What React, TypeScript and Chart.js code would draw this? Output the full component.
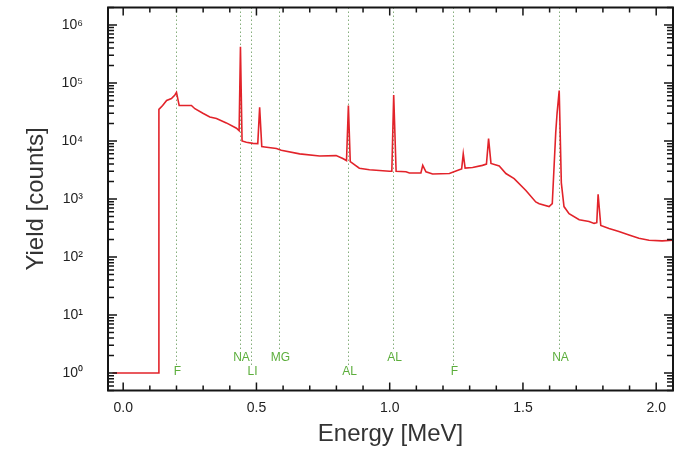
import React, { useEffect, useRef } from "react";
import { Chart, registerables } from "chart.js";

Chart.register(...registerables);

// Spectrum (energy in MeV, yield in counts)
const ENERGY = [
  -0.04, 0.133, 0.134, 0.148, 0.163, 0.181, 0.194, 0.2, 0.21, 0.237, 0.256, 0.269,
  0.299, 0.325, 0.35, 0.387, 0.425, 0.435, 0.44, 0.446, 0.462, 0.487, 0.505, 0.512,
  0.52, 0.531, 0.575, 0.593, 0.662, 0.737, 0.799, 0.824, 0.838, 0.845, 0.852, 0.886,
  0.924, 0.999, 1.008, 1.015, 1.024, 1.061, 1.074, 1.117, 1.124, 1.136, 1.161, 1.224,
  1.261, 1.27, 1.276, 1.283, 1.311, 1.348, 1.363, 1.371, 1.38, 1.411, 1.436, 1.467,
  1.511, 1.548, 1.561, 1.598, 1.61, 1.623, 1.628, 1.636, 1.644, 1.654, 1.673, 1.711,
  1.748, 1.767, 1.777, 1.782, 1.792, 1.823, 1.86, 1.898, 1.935, 1.973, 2.022, 2.062,
];
const COUNTS = [
  1, 1, 3.5e4, 4.1e4, 5.0e4, 5.4e4, 6.2e4, 6.9e4, 4.1e4, 4.1e4, 4.1e4, 3.6e4,
  3.0e4, 2.6e4, 2.45e4, 2.05e4, 1.66e4, 1.5e4, 4.2e5, 1.0e4, 9.5e3, 9.1e3, 9.0e3, 3.8e4,
  8.0e3, 7.9e3, 7.4e3, 6.9e3, 6.0e3, 5.5e3, 5.6e3, 5.0e3, 4.6e3, 4.1e4, 4.4e3, 3.4e3,
  3.2e3, 3.0e3, 3.0e3, 6.2e4, 3.0e3, 2.95e3, 2.8e3, 2.8e3, 3.8e3, 2.95e3, 2.7e3, 2.75e3,
  3.2e3, 3.3e3, 6.0e3, 3.4e3, 3.5e3, 3.8e3, 4.0e3, 1.1e4, 4.1e3, 3.7e3, 2.75e3, 2.24e3,
  1.4e3, 890, 830, 740, 830, 1.4e4, 3.0e4, 7.4e4, 1.9e3, 740, 560, 440,
  410, 380, 390, 1.2e3, 350, 310, 275, 240, 210, 195, 190, 195,
];

// Marked gamma lines
const LINE_ENERGY = [0.197, 0.44, 0.478, 0.585, 0.844, 1.014, 1.236, 1.634];
const LINE_NAME = ["F", "NA", "LI", "MG", "AL", "AL", "F", "NA"];
const LINE_ROW = ["lower", "upper", "lower", "upper", "lower", "upper", "lower", "upper"];

// Axis ticks
const X_TICKS = [0, 0.5, 1.0, 1.5, 2.0];
const Y_TICKS = [1, 10, 100, 1e3, 1e4, 1e5, 1e6];
const SUPERSCRIPTS = ["⁰", "¹", "²", "³", "⁴", "⁵", "⁶"];

const X_MIN = -0.057;
const X_MAX = 2.063;
const Y_MIN = 0.5;
const Y_MAX = 2e6;

const FONT = "'Liberation Sans', Arial, Helvetica, sans-serif";

const decorPlugin = {
  id: "decor",
  beforeDatasetsDraw(chart: any) {
    const { ctx, chartArea: a, scales } = chart;
    const x = scales.x;
    ctx.save();
    ctx.font = "12px 'Liberation Sans Narrow', 'Liberation Sans', sans-serif";
    ctx.textAlign = "center";
    ctx.textBaseline = "middle";
    LINE_ENERGY.forEach((e, i) => {
      const px = Math.round(x.getPixelForValue(e)) + 0.5;
      const rowY = LINE_ROW[i] === "upper" ? a.bottom - 32.5 : a.bottom - 18.5;
      ctx.strokeStyle = "rgba(120,165,110,0.9)";
      ctx.lineWidth = 1;
      ctx.setLineDash([1.5, 2.5]);
      ctx.beginPath();
      ctx.moveTo(px, a.top);
      ctx.lineTo(px, rowY - 7);
      ctx.stroke();
      ctx.fillStyle = "#5cae3c";
      ctx.fillText(LINE_NAME[i], px + 1, rowY);
    });
    ctx.restore();
  },
  afterDraw(chart: any) {
    const { ctx, chartArea: a, scales } = chart;
    const x = scales.x;
    const y = scales.y;
    ctx.save();
    ctx.strokeStyle = "#151515";
    ctx.lineWidth = 1.5;
    ctx.beginPath();
    for (let i = 0; i <= 20; i++) {
      const v = i / 10;
      if (v < X_MIN || v > X_MAX) continue;
      const px = x.getPixelForValue(v);
      const len = i % 5 === 0 ? 8 : 5;
      ctx.moveTo(px, a.bottom);
      ctx.lineTo(px, a.bottom - len);
      ctx.moveTo(px, a.top);
      ctx.lineTo(px, a.top + len);
    }
    for (let d = -1; d <= 6; d++) {
      for (let m = 1; m <= 9; m++) {
        const v = m * Math.pow(10, d);
        if (v < Y_MIN || v > Y_MAX) continue;
        const py = y.getPixelForValue(v);
        const len = m === 1 ? 9 : 6;
        ctx.moveTo(a.left, py);
        ctx.lineTo(a.left + len, py);
        ctx.moveTo(a.right, py);
        ctx.lineTo(a.right - len, py);
      }
    }
    ctx.stroke();
    ctx.lineWidth = 2;
    ctx.strokeRect(a.left, a.top, a.right - a.left, a.bottom - a.top);
    ctx.restore();
  },
};

export default function App() {
  const canvasRef = useRef<HTMLCanvasElement | null>(null);

  useEffect(() => {
    const canvas = canvasRef.current;
    if (!canvas) return;
    const points = ENERGY.map((e, i) => ({ x: e, y: COUNTS[i] }));
    const chart = new Chart(canvas, {
      type: "line",
      data: {
        datasets: [
          {
            data: points,
            borderColor: "#e2232a",
            borderWidth: 1.6,
            pointRadius: 0,
            tension: 0,
            fill: false,
          },
        ],
      },
      options: {
        animation: false,
        responsive: false,
        maintainAspectRatio: false,
        layout: { padding: { left: 0, right: 1, top: 7.5, bottom: 0 } },
        plugins: {
          legend: { display: false },
          tooltip: { enabled: false },
        },
        scales: {
          x: {
            type: "linear",
            min: X_MIN,
            max: X_MAX,
            grid: { display: false, drawTicks: false },
            border: { display: false },
            afterBuildTicks: (scale: any) => {
              scale.ticks = X_TICKS.map((v) => ({ value: v }));
            },
            afterFit: (scale: any) => {
              scale.height = 59.5;
              scale.paddingLeft = 0;
              scale.paddingRight = 0;
            },
            ticks: {
              padding: 9,
              color: "#222",
              font: { family: FONT, size: 14 },
              maxRotation: 0,
              callback: (v: any) => Number(v).toFixed(1),
            },
            title: {
              display: true,
              text: "Energy [MeV]",
              color: "#333",
              font: { family: FONT, size: 24 },
              padding: { top: 0, bottom: 1 },
            },
          },
          y: {
            type: "logarithmic",
            min: Y_MIN,
            max: Y_MAX,
            grid: { display: false, drawTicks: false },
            border: { display: false },
            afterBuildTicks: (scale: any) => {
              scale.ticks = Y_TICKS.map((v) => ({ value: v }));
            },
            afterFit: (scale: any) => {
              scale.width = 108;
              scale.paddingTop = 0;
              scale.paddingBottom = 0;
            },
            ticks: {
              padding: 25,
              color: "#222",
              font: { family: FONT, size: 14 },
              callback: (v: any) => "10" + SUPERSCRIPTS[Math.round(Math.log10(Number(v)))],
            },
            title: {
              display: true,
              text: "Yield [counts]",
              color: "#333",
              font: { family: FONT, size: 24 },
              padding: { top: 22, bottom: 0 },
            },
          },
        },
      },
      plugins: [decorPlugin],
    } as any);
    return () => chart.destroy();
  }, []);

  return (
    <div style={{ position: "absolute", left: 0, top: 0, width: 674, height: 450, background: "#fff" }}>
      <canvas ref={canvasRef} width={674} height={450} style={{ display: "block" }} />
    </div>
  );
}
